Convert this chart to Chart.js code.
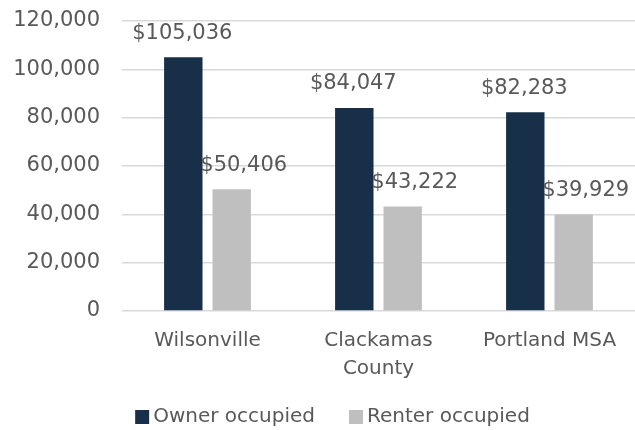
<!DOCTYPE html>
<html>
<head>
<meta charset="utf-8">
<script src="https://cdn.jsdelivr.net/npm/chart.js@4/dist/chart.umd.min.js"></script>
<style>
html,body{margin:0;padding:0;background:#fff;overflow:hidden;}
#wrap{width:635px;height:430px;position:relative;}
</style>
</head>
<body>
<div id="wrap"><canvas id="c" width="635" height="430"></canvas></div>
<script>
const categories = [["Wilsonville"], ["Clackamas", "County"], ["Portland MSA"]];
const seriesNames = ["Owner occupied", "Renter occupied"];
const ownerValues = [105036, 84047, 82283];
const renterValues = [50406, 43222, 39929];
const yTicks = [0, 20000, 40000, 60000, 80000, 100000, 120000];

const NAVY = '#172F49';
const GRAY = '#BFBFBF';
const TEXT = '#595959';
const FONT = '"DejaVu Sans", sans-serif';

const labelPlugin = {
  id: 'valueLabels',
  afterDatasetsDraw(chart) {
    const ctx = chart.ctx;
    ctx.save();
    ctx.font = '21px ' + FONT;
    ctx.fillStyle = TEXT;
    ctx.textAlign = 'center';
    ctx.textBaseline = 'middle';
    chart.data.datasets.forEach((ds, di) => {
      const meta = chart.getDatasetMeta(di);
      const dx = di === 0 ? -1 : 12;
      meta.data.forEach((bar, i) => {
        const v = ds.data[i];
        ctx.fillText('$' + v.toLocaleString('en-US'), bar.x + dx, bar.y - 24);
      });
    });
    ctx.restore();
  }
};

const legendPlugin = {
  id: 'customLegend',
  afterDraw(chart) {
    const ctx = chart.ctx;
    ctx.save();
    ctx.font = '20px ' + FONT;
    ctx.textBaseline = 'middle';
    ctx.textAlign = 'left';
    const box = 14, gap = 4, itemGap = 34;
    const items = chart.data.datasets.map(ds => ({ text: ds.label, color: ds.backgroundColor, w: ctx.measureText(ds.label).width }));
    let total = 0;
    items.forEach((it, i) => { total += box + gap + it.w + (i < items.length - 1 ? itemGap : 0); });
    let x = chart.width / 2 + 15 - total / 2;
    const y = 417;
    items.forEach(it => {
      ctx.fillStyle = it.color;
      ctx.fillRect(x, y - box / 2, box, box);
      ctx.fillStyle = TEXT;
      ctx.fillText(it.text, x + box + gap, y);
      x += box + gap + it.w + itemGap;
    });
    ctx.restore();
  }
};

new Chart(document.getElementById('c'), {
  type: 'bar',
  data: {
    labels: categories,
    datasets: [
      { label: seriesNames[0], data: ownerValues, backgroundColor: NAVY, categoryPercentage: 0.566, barPercentage: 0.794 },
      { label: seriesNames[1], data: renterValues, backgroundColor: GRAY, categoryPercentage: 0.566, barPercentage: 0.794 }
    ]
  },
  options: {
    responsive: false,
    animation: false,
    layout: { padding: { top: 21, right: 0, left: 0, bottom: 0 } },
    plugins: {
      legend: { display: false },
      tooltip: { enabled: false }
    },
    scales: {
      x: {
        grid: { display: false, drawTicks: false },
        border: { display: false },
        ticks: { color: TEXT, font: { family: FONT, size: 20, lineHeight: 1.4 }, padding: 16, maxRotation: 0 },
        afterFit(s) { s.height = 119; s.paddingLeft = 0; s.paddingRight = 0; }
      },
      y: {
        min: 0, max: 120000,
        afterBuildTicks(s) { s.ticks = yTicks.map(v => ({ value: v })); },
        grid: { color: '#D9D9D9', lineWidth: 1.5, drawTicks: false },
        border: { display: false },
        ticks: { color: TEXT, font: { family: FONT, size: 21 }, padding: 22 },
        afterFit(s) { s.width = 122; s.paddingTop = 0; s.paddingBottom = 0; }
      }
    }
  },
  plugins: [labelPlugin, legendPlugin]
});
</script>
</body>
</html>
